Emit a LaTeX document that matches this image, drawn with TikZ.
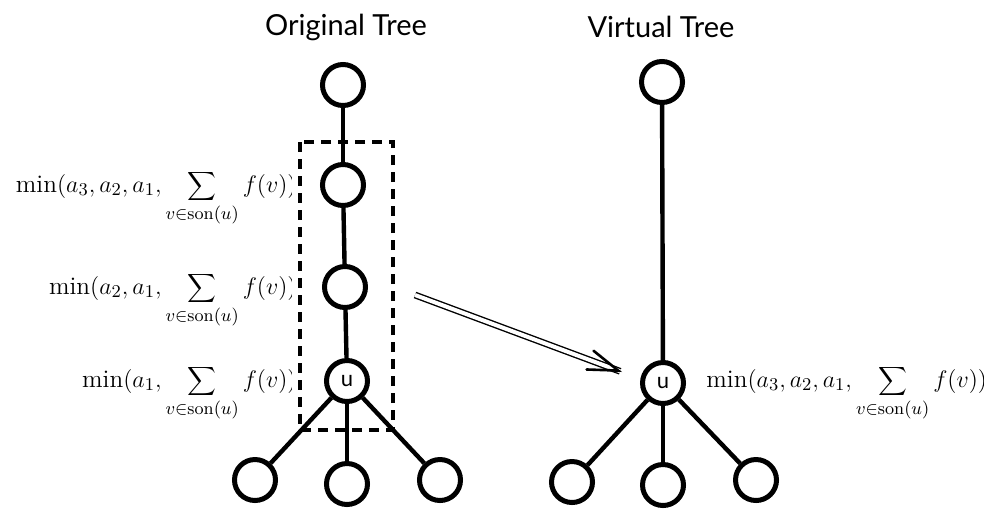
\documentclass[tikz,border=0pt]{standalone}
\usepackage{fontspec}
\newfontfamily\handfont{Lato}
\usetikzlibrary{arrows.meta,calc}
\begin{document}
\begin{tikzpicture}[x=0.5pt,y=-0.5pt,
  vert/.style={circle,draw,line width=2.5pt,minimum size=20.5pt,inner sep=0pt,font=\handfont\fontsize{11}{12}\selectfont},
  edge/.style={line width=2.2pt},
  title/.style={font=\handfont\fontsize{14.5}{16}\selectfont},
  lab/.style={inner sep=0pt,font=\fontsize{12.6}{15}\selectfont}]
\useasboundingbox (0,0) rectangle (994,515);
% titles
\node[title] (t1) at (346,27) {Original Tree};
\node[title] (t2) at (661,27) {Virtual Tree};
% original tree
\node[vert] (a) at (343,85) {};
\node[vert] (b) at (343,185) {};
\node[vert] (c) at (345,287) {};
\node[vert] (u) at (347,381) {u};
\node[vert] (c1) at (255,480) {};
\node[vert] (c2) at (347,484) {};
\node[vert] (c3) at (440,480) {};
\draw[edge] (a) -- (b);
\draw[edge] (b) -- (c);
\draw[edge] (c) -- (u);
\draw[edge] (u) -- (c1);
\draw[edge] (u) -- (c2);
\draw[edge] (u) -- (c3);
% dashed box
\draw[line width=2.2pt,dash pattern=on 5pt off 3.5pt] (300,142) rectangle (393,430);
% virtual tree
\node[vert] (va) at (662,82) {};
\node[vert] (vu) at (663,383) {u};
\node[vert] (v1) at (572,482) {};
\node[vert] (v2) at (663,485) {};
\node[vert] (v3) at (756,480) {};
\draw[edge] (va) -- (vu);
\draw[edge] (vu) -- (v1);
\draw[edge] (vu) -- (v2);
\draw[edge] (vu) -- (v3);
% arrow
\coordinate (p) at (415,295);
\coordinate (q) at (622,372);
\draw[double distance=2pt,line width=0.7pt,shorten >=1pt] (p) -- (q);
\draw[line width=1.3pt,-{Straight Barb[length=15pt,width=10pt,line cap=round]}] ($(p)!0.97!(q)$) -- (q);
% labels
\begin{scope}
\clip (0,0) rectangle (291,515);
\node[lab,anchor=east] (l1) at (297,198) {$\displaystyle\min(a_3,a_2,a_1,\sum_{v\in\mathrm{son}(u)}f(v))$};
\node[lab,anchor=east] (l2) at (297,300) {$\displaystyle\min(a_2,a_1,\sum_{v\in\mathrm{son}(u)}f(v))$};
\node[lab,anchor=east] (l3) at (297,393) {$\displaystyle\min(a_1,\sum_{v\in\mathrm{son}(u)}f(v))$};
\end{scope}
\begin{scope}
\clip (0,0) rectangle (983,515);
\node[lab,anchor=west] (l4) at (706,393) {$\displaystyle\min(a_3,a_2,a_1,\sum_{v\in\mathrm{son}(u)}f(v))$};
\end{scope}
\end{tikzpicture}
\end{document}
